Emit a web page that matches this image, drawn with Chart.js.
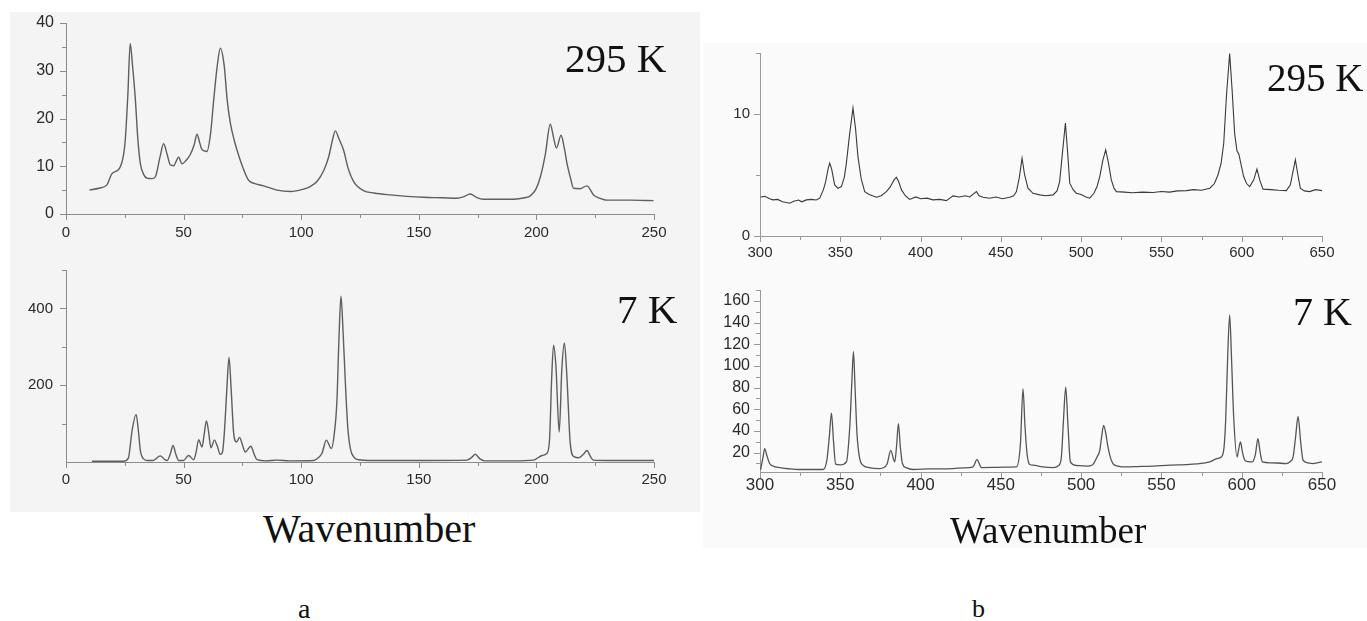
<!DOCTYPE html>
<html>
<head>
<meta charset="utf-8">
<title>Raman spectra, 295 K and 7 K</title>
<script src="https://cdn.jsdelivr.net/npm/chart.js@4.4.0/dist/chart.umd.min.js"></script>
<style>
  body { margin: 0; background: #fff; width: 1367px; height: 621px; position: relative; overflow: hidden; }
  canvas, .label, .bg { position: absolute; }
  .label { font-family: "Liberation Serif", "Times New Roman", serif; color: #111; line-height: 1; white-space: nowrap; }
</style>
</head>
<body>
<div class="bg" style="left:10px;top:12px;width:690px;height:500px;background:#f4f4f4"></div>
<div class="bg" style="left:703px;top:43px;width:664px;height:505px;background:#fafafa"></div>

<canvas id="chartA295"></canvas>
<canvas id="chartA7"></canvas>
<canvas id="chartB295"></canvas>
<canvas id="chartB7"></canvas>

<div class="label" style="left:565px;top:37.7px;font-size:41px">295 K</div>
<div class="label" style="left:617px;top:288.7px;font-size:41px">7 K</div>
<div class="label" style="left:1267px;top:58.3px;font-size:39px">295 K</div>
<div class="label" style="left:1293px;top:291.5px;font-size:40px">7 K</div>
<div class="label" style="left:263px;top:508.5px;font-size:40px">Wavenumber</div>
<div class="label" style="left:950px;top:512px;font-size:37px">Wavenumber</div>
<div class="label" style="left:298px;top:594.5px;font-size:28px">a</div>
<div class="label" style="left:972px;top:596px;font-size:26px">b</div>

<script>
// Panel a, 295 K
const waveA295 = [10, 14, 17.4, 19.5, 22.8, 24.5, 25.2, 26.3, 27.3, 28.3, 29.5, 30.5, 31.6, 33, 34.4, 36.5, 38,
    40, 41.5, 43, 44.3, 45.7, 47.9, 49.3, 51, 52.8, 54.5, 55.7, 56.8, 57.8, 59.9, 61.5, 62.8, 64.3, 65.6,
    67.3, 68.5, 69.9, 71.5, 72.7, 75, 77.6, 80, 84, 89.7, 95.4, 101, 104, 106.7, 109.5, 111.7, 113.3,
    114.5, 116, 118, 120, 122.3, 126.5, 131, 137.9, 145, 152, 160, 166.2, 169, 171.9, 174.5, 177.5, 184,
    190.3, 195, 197.4, 199.8, 201.7, 203.8, 205.9, 207.3, 208.5, 210.5, 211.8, 213, 214.5, 215.8, 218.5,
    221.5, 224.3, 227, 230, 240, 249.8];
const intA295 = [5.0, 5.4, 6.1, 8.4, 9.6, 12.5, 15.5, 25, 35.7, 31, 23.9, 16, 10.6, 8.3, 7.5, 7.4, 7.8,
    12, 14.7, 12.5, 10.3, 10.1, 11.9, 10.5, 11.2, 12.4, 14.5, 16.7, 15, 13.5, 13.1, 17, 23.9, 31, 34.7,
    30.9, 24, 19.0, 15.5, 13.4, 10, 7.1, 6.4, 5.9, 5.0, 4.7, 5.2, 5.8, 6.8, 9, 12.0, 15.5,
    17.4, 15.8, 13.4, 9.5, 6.8, 4.9, 4.4, 4.0, 3.7, 3.5, 3.4, 3.3, 3.6, 4.2, 3.5, 3.1, 3.1,
    3.1, 3.4, 3.8, 5.2, 7.8, 12.5, 18.8, 16, 13.8, 16.5, 14, 10.6, 7.5, 5.4, 5.3,
    5.9, 4.0, 3.3, 2.9, 2.9, 2.8];

// Panel a, 7 K
const waveA7 = [11, 18, 24.5, 26.5, 28.1, 29.8, 30.8, 31.6, 33, 34.4, 37, 40.1, 42, 43, 44.3, 45.5, 46.7,
    47.9, 50, 52.1, 54.3, 55.3, 56.4, 57.8, 58.7, 59.7, 60.6, 61.6, 63.1, 64.3, 65.6, 66.5, 67.3, 68.3,
    69.3, 70.3, 71.3, 72.5, 73.8, 75, 76.2, 78.6, 80, 81.2, 85, 89.7, 95, 105.3, 107, 108.8, 110.7,
    112.8, 114, 115.2, 116.1, 116.9, 117.8, 118.8, 119.8, 120.9, 122.5, 124.3, 130, 150, 170.5, 172.5,
    174, 176, 178, 190, 198.8, 202.4, 204.4, 205.6, 206.5, 207.3, 208.3, 209.7, 210.8, 211.9, 212.9,
    214.4, 216, 218, 220, 221.5, 223, 224.3, 230, 250];
const intA7 = [2, 2, 2, 10, 82, 124, 80, 30, 8, 4, 4, 16, 6, 4, 20, 43, 20,
    4, 4, 17, 6, 25, 58, 39, 70, 107, 80, 37, 57, 42, 20, 25, 74, 180,
    272, 180, 74, 52, 64, 45, 26, 41, 20, 6, 3, 5, 3, 4, 10, 22, 57,
    35, 70, 161, 330, 432, 340, 204, 90, 35, 12, 6, 4, 4, 5, 12,
    20, 8, 3, 3, 5, 17, 22, 60, 220, 304, 250, 78, 240, 310, 230,
    48, 14, 11, 20, 30, 14, 5, 4, 4];

// Panel b, 295 K
const waveB295 = [300.4, 303, 306, 308.1, 311, 314, 318.5, 321, 324, 326, 328.9, 332, 335, 337.2, 339.5,
    340.9, 342.4, 343.4, 344.6, 346.5, 348.5, 350.7, 352.5, 353.8, 355.5, 357.9, 359.5, 361, 363, 365.2,
    368, 372.5, 375.5, 378.7, 381, 383.5, 384.9, 386.5, 388.1, 390.5, 393.2, 397, 400, 404, 407.7, 412,
    416.1, 420.2, 424, 428, 430.6, 434.8, 436.5, 438.9, 443, 447, 451, 455.5, 458, 459.7, 461.5, 463.2,
    464.8, 466.9, 470, 474.2, 478, 482.5, 485, 486.6, 488.5, 490.2, 491.5, 492.9, 495, 497, 500, 503,
    505.3, 508, 510, 511.6, 513.5, 515.3, 517, 518.8, 520.5, 522, 527, 532, 538, 544.8, 550, 555, 560,
    565.6, 570, 575, 580.1, 583, 585.2, 587.2, 588.8, 590.5, 592.5, 594, 595.6, 597, 598.3, 600, 601.2,
    603, 605, 607.5, 609.5, 611.2, 613.3, 618, 623, 627.8, 630.3, 631.8, 633.4, 635, 636.5, 639, 642.3,
    646, 650];
const intB295 = [3.2, 3.25, 3.05, 2.96, 3.0, 2.8, 2.69, 2.85, 2.95, 2.8, 2.96, 3.0, 2.95, 3.1, 3.8,
    4.46, 5.5, 5.97, 5.5, 4.19, 3.9, 4.05, 4.8, 5.97, 8, 10.5, 8.8, 6.5, 4.7, 3.64,
    3.4, 3.18, 3.3, 3.64, 4.0, 4.6, 4.82, 4.4, 3.78, 3.3, 3.0, 3.2, 3.05, 3.1, 2.96, 3.0,
    2.9, 3.29, 3.2, 3.3, 3.2, 3.64, 3.3, 3.18, 3.1, 3.2, 3.05, 3.18, 3.3, 3.64, 4.8, 6.38,
    5.0, 3.92, 3.5, 3.37, 3.3, 3.37, 3.7, 4.46, 7, 9.26, 7, 4.33, 3.8, 3.51, 3.4, 3.2,
    3.1, 3.5, 4.1, 4.87, 6.2, 7.07, 6.0, 4.6, 3.9, 3.64, 3.6, 3.55, 3.6, 3.56, 3.65, 3.6, 3.7,
    3.72, 3.8, 3.75, 3.92, 4.3, 5.0, 6.0, 7.6, 11.5, 14.96, 12, 8.4, 7.0, 6.66, 5.6, 4.87,
    4.3, 4.05, 4.6, 5.48, 4.6, 3.84, 3.8, 3.75, 3.72, 4.19, 5.2, 6.25, 5.0, 3.92, 3.7, 3.64,
    3.8, 3.72];

// Panel b, 7 K
const waveB7 = [300.4, 301.8, 302.9, 304.3, 306, 309, 312.3, 318, 324.7, 332, 339.3, 341.7, 343.2, 344.5,
    345.8, 347.1, 350, 353.8, 355.9, 357.2, 358.2, 359.2, 360.4, 362, 364.1, 368, 374.5, 379.1, 381.4,
    383.9, 385, 386.2, 387.4, 388.7, 391, 395.3, 405, 420.2, 427, 432.7, 435.1, 437.9, 445, 452, 459.7,
    462.2, 463.8, 465, 466.3, 468, 470, 476, 482.5, 486, 487.7, 489, 490.4, 491.8, 493.3, 497, 503.3,
    507, 509.9, 511.6, 512.8, 514, 515.3, 516.7, 518.3, 519.8, 523, 528.1, 535, 545, 555.1, 565, 572,
    580, 584.6, 587.3, 589, 590, 591.3, 592.5, 593.7, 595, 597.1, 598, 599.2, 600.5, 601.9, 604, 606.6,
    608.5, 610.1, 611.5, 612.9, 618, 622, 627.8, 630.5, 632, 633.6, 635.1, 636.7, 638.2, 641, 644.4,
    647, 650];
const intB7 = [4.3, 15, 23.6, 17, 9.8, 7, 6.1, 5, 4.3, 4.3, 4.3, 13.5, 35, 56.4,
    30, 9.2, 8.5, 11.3, 43.5, 85, 113, 80, 37.4, 15, 8.3, 6, 5.2, 9.2, 22,
    11.3, 25, 46.6, 25, 9.8, 6, 4.3, 4.8, 5.2, 5.8, 6.7, 13.5, 6.1, 6.2, 6.5, 6.7,
    28.2, 78.8, 45, 19, 9, 8.3, 6.8, 6.1, 8, 15.9, 50, 80.3, 45, 11.3, 8, 7.4,
    8.5, 15.9, 22, 35, 45, 38, 25.1, 15, 9.8, 7.5, 6.7, 7, 7.5, 8.3, 8.8, 9.5,
    11.3, 14.4, 15.9, 25, 49.6, 110, 147, 105, 52.7, 15.9, 22, 29.7, 20, 12.9, 11.5, 11.3,
    18, 32.8, 20, 11.3, 10.5, 10.3, 9.8, 12, 15.9, 35, 53.3, 30, 12.9, 10.5, 9.8,
    10.5, 11.3];

// Tick labels (major) and minor tick positions
const xTicksA = [0, 50, 100, 150, 200, 250];
const xMinorA = [25, 75, 125, 175, 225];
const yTicksA295 = [0, 10, 20, 30, 40];
const yMinorA295 = [5, 15, 25, 35];
const yTicksA7 = [200, 400];
const yMinorA7 = [100, 300, 500];
const xTicksB = [300, 350, 400, 450, 500, 550, 600, 650];
const xMinorB = [325, 375, 425, 475, 525, 575, 625];
const yTicksB295 = [0, 10];
const yMinorB295 = [5, 15];
const yTicksB7 = [20, 40, 60, 80, 100, 120, 140, 160];
const yMinorB7 = [10, 30, 50, 70, 90, 110, 130, 150, 170];

// Tick marks drawn outside the axes, long for labelled ticks, short for minor ones
function tickMarks(xMajor, xMinor, yMajor, yMinor, color) {
    return {
        id: "tickMarks",
        afterDraw(chart) {
            const { ctx, scales: { x, y } } = chart;
            ctx.save();
            ctx.strokeStyle = color;
            ctx.lineWidth = 1;
            ctx.beginPath();
            const xTick = (v, len) => {
                const p = Math.round(x.getPixelForValue(v)) + 0.5;
                ctx.moveTo(p, y.bottom);
                ctx.lineTo(p, y.bottom + len);
            };
            const yTick = (v, len) => {
                const p = Math.round(y.getPixelForValue(v)) + 0.5;
                ctx.moveTo(x.left, p);
                ctx.lineTo(x.left - len, p);
            };
            xMajor.forEach(v => xTick(v, 6));
            xMinor.forEach(v => xTick(v, 4));
            yMajor.forEach(v => yTick(v, 6));
            yMinor.forEach(v => yTick(v, 4));
            ctx.stroke();
            ctx.restore();
        }
    };
}

function makePanel(id, area, xs, ys, p) {
    const padTop = 12, padRight = 40, yW = 70, xH = 40;
    const canvas = document.getElementById(id);
    canvas.width = area.right - area.left + yW + padRight;
    canvas.height = area.bottom - area.top + padTop + xH;
    canvas.style.left = (area.left - yW) + "px";
    canvas.style.top = (area.top - padTop) + "px";

    const fixPad = s => { s.paddingLeft = s.paddingRight = s.paddingTop = s.paddingBottom = 0; };

    return new Chart(canvas.getContext("2d"), {
        type: "line",
        data: {
            datasets: [{
                data: xs.map((x, i) => ({ x: x, y: ys[i] })),
                borderColor: p.lineColor,
                borderWidth: p.lineWidth,
                pointRadius: 0,
                cubicInterpolationMode: p.smooth ? "monotone" : "default",
                tension: 0,
                fill: false
            }]
        },
        options: {
            responsive: false,
            animation: false,
            layout: { padding: { left: 0, top: padTop, right: padRight, bottom: 0 } },
            plugins: { legend: { display: false }, tooltip: { enabled: false } },
            scales: {
                x: {
                    type: "linear",
                    min: p.xMin, max: p.xMax,
                    grid: { display: false, drawTicks: false },
                    border: { display: true, color: p.axisColor, width: 1 },
                    ticks: {
                        autoSkip: false, maxRotation: 0, padding: p.xPad,
                        color: "#2a2a2a",
                        font: { family: "'Liberation Sans', Arial, sans-serif", size: p.xFont },
                        callback: v => v
                    },
                    afterBuildTicks: s => { s.ticks = p.xTicks.map(v => ({ value: v })); },
                    afterFit: s => { s.height = xH; fixPad(s); }
                },
                y: {
                    min: p.yMin, max: p.yMax,
                    grid: { display: false, drawTicks: false },
                    border: { display: true, color: p.axisColor, width: 1 },
                    ticks: {
                        autoSkip: false, padding: p.yPad,
                        color: "#2a2a2a",
                        font: { family: "'Liberation Sans', Arial, sans-serif", size: p.yFont },
                        callback: v => v
                    },
                    afterBuildTicks: s => { s.ticks = p.yTicks.map(v => ({ value: v })); },
                    afterFit: s => { s.width = yW; fixPad(s); }
                }
            }
        },
        plugins: [tickMarks(p.xTicks, p.xMinor, p.yTicks, p.yMinor, p.axisColor)]
    });
}

makePanel("chartA295", { left: 66, top: 23, right: 654, bottom: 214 }, waveA295, intA295, {
    xMin: 0, xMax: 250, yMin: 0, yMax: 40,
    xTicks: xTicksA, xMinor: xMinorA, yTicks: yTicksA295, yMinor: yMinorA295,
    lineColor: "#5e5e5e", lineWidth: 1.4, axisColor: "#8c8c8c", smooth: true,
    xFont: 15, yFont: 16, xPad: 10, yPad: 12
});

makePanel("chartA7", { left: 66, top: 270, right: 654, bottom: 462 }, waveA7, intA7, {
    xMin: 0, xMax: 250, yMin: 0, yMax: 500,
    xTicks: xTicksA, xMinor: xMinorA, yTicks: yTicksA7, yMinor: yMinorA7,
    lineColor: "#5e5e5e", lineWidth: 1.4, axisColor: "#8c8c8c", smooth: true,
    xFont: 15, yFont: 15, xPad: 9, yPad: 13
});

makePanel("chartB295", { left: 760, top: 53, right: 1322, bottom: 236 }, waveB295, intB295, {
    xMin: 300, xMax: 650, yMin: 0, yMax: 15,
    xTicks: xTicksB, xMinor: xMinorB, yTicks: yTicksB295, yMinor: yMinorB295,
    lineColor: "#3a3a3a", lineWidth: 1.1, axisColor: "#999999", smooth: false,
    xFont: 15, yFont: 15, xPad: 8, yPad: 10
});

makePanel("chartB7", { left: 760, top: 290, right: 1322, bottom: 472 }, waveB7, intB7, {
    xMin: 300, xMax: 650, yMin: 2, yMax: 170,
    xTicks: xTicksB, xMinor: xMinorB, yTicks: yTicksB7, yMinor: yMinorB7,
    lineColor: "#555555", lineWidth: 1.3, axisColor: "#999999", smooth: true,
    xFont: 17, yFont: 16, xPad: 3, yPad: 10
});
</script>
</body>
</html>
